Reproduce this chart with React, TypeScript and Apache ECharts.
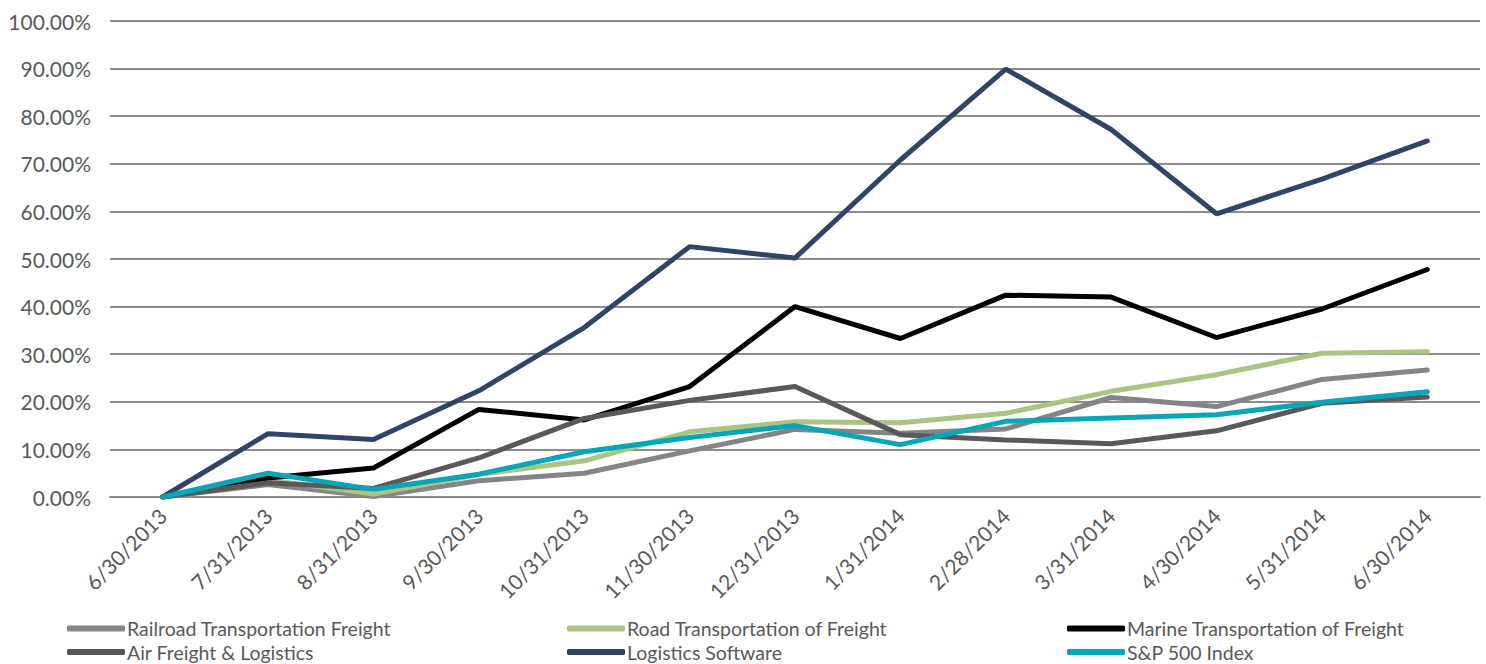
import React, { useEffect, useRef } from "react";
import * as echarts from "echarts";

const categories = [
  "6/30/2013", "7/31/2013", "8/31/2013", "9/30/2013", "10/31/2013", "11/30/2013",
  "12/31/2013", "1/31/2014", "2/28/2014", "3/31/2014", "4/30/2014", "5/31/2014", "6/30/2014",
];

const railroad = [0, 2.6, 0.1, 3.4, 5.0, 9.7, 14.2, 13.4, 14.3, 20.9, 19.0, 24.7, 26.7];
const road = [0, 3.6, 0.6, 4.7, 7.6, 13.7, 15.8, 15.6, 17.6, 22.2, 25.7, 30.2, 30.5];
const marine = [0, 4.0, 6.1, 18.4, 16.2, 23.2, 40.0, 33.3, 42.4, 42.0, 33.5, 39.5, 47.8];
const air = [0, 3.0, 1.8, 8.2, 16.5, 20.3, 23.2, 13.1, 12.0, 11.2, 13.9, 19.7, 21.0];
const logistics = [0, 13.3, 12.1, 22.3, 35.6, 52.6, 50.2, 70.8, 89.9, 77.2, 59.5, 66.8, 74.8];
const sp500 = [0, 5.0, 1.6, 4.8, 9.5, 12.5, 15.0, 11.0, 15.9, 16.6, 17.3, 19.9, 22.1];

const seriesNames = [
  "Railroad Transportation Freight",
  "Road Transportation of Freight",
  "Marine Transportation of Freight",
  "Air Freight & Logistics",
  "Logistics Software",
  "S&P 500 Index",
];
const seriesData = [railroad, road, marine, air, logistics, sp500];
const seriesColors = ["#848589", "#a9c483", "#000000", "#595959", "#2f4466", "#07a5b8"];

const FONT = "Lato, 'Noto Sans', sans-serif";
const TEXT_COLOR = "#595959";

// legend layout: [left, top] per series
const legendLefts = [67, 567, 1067, 67, 567, 1067];
const legendTops = [617, 617, 617, 640.5, 640.5, 640.5];

export default function App() {
  const ref = useRef<HTMLDivElement>(null);
  useEffect(() => {
    if (!ref.current) return;
    const chart = echarts.init(ref.current, undefined, { renderer: "svg" });
    chart.setOption({
      animation: false,
      textStyle: { fontFamily: FONT },
      grid: { left: 110, right: 6, top: 21, bottom: 167, containLabel: false },
      legend: seriesNames.map((name, i) => ({
        data: [name],
        left: legendLefts[i],
        top: legendTops[i],
        padding: 0,
        itemWidth: 58,
        itemHeight: 6,
        icon: "roundRect",
        textStyle: {
          fontFamily: FONT,
          fontSize: 19.5,
          lineHeight: 23,
          color: TEXT_COLOR,
          padding: [0, 0, 0, -3],
        },
      })),
      xAxis: {
        type: "category",
        data: categories,
        boundaryGap: true,
        axisLine: { show: true, lineStyle: { color: "#8c8c8c", width: 2 } },
        axisTick: { show: false },
        axisLabel: {
          rotate: 45,
          margin: 15,
          fontSize: 21,
          color: TEXT_COLOR,
          fontFamily: FONT,
          interval: 0,
        },
      },
      yAxis: {
        type: "value",
        min: 0,
        max: 100,
        interval: 10,
        axisLine: { show: false },
        axisTick: { show: false },
        splitLine: { lineStyle: { color: "#8c8c8c", width: 2 } },
        axisLabel: {
          fontSize: 21,
          color: TEXT_COLOR,
          margin: 19,
          fontFamily: FONT,
          formatter: (v: number) => v.toFixed(2) + "%",
        },
      },
      series: seriesNames.map((name, i) => ({
        name,
        type: "line",
        data: seriesData[i],
        showSymbol: false,
        symbol: "none",
        color: seriesColors[i],
        lineStyle: { width: 5, color: seriesColors[i], cap: "round" },
      })),
    });
    return () => chart.dispose();
  }, []);
  return (
    <div
      ref={ref}
      style={{ position: "fixed", left: 0, top: 0, width: 1486, height: 664, background: "#fff" }}
    />
  );
}
